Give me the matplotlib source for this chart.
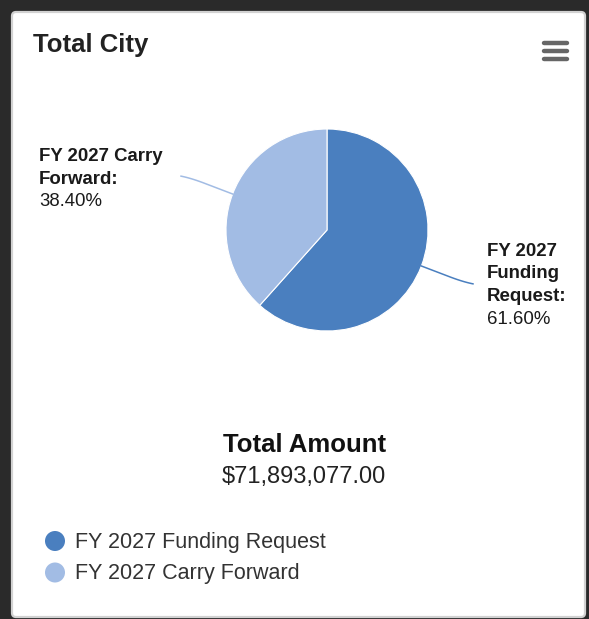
import textwrap
import numpy as np
import matplotlib
matplotlib.use("Agg")
import matplotlib.pyplot as plt
from matplotlib.patches import FancyBboxPatch, Circle

# ---------------- data ----------------
categories = ["FY 2027 Funding Request", "FY 2027 Carry Forward"]
percentages = [61.60, 38.40]
colors = ["#4a7fbf", "#a2bce4"]
title = "Total City"
total_label = "Total Amount"
total_value = 71893077.00
label_wrap = [8, 13]

plt.rcParams['font.family'] = ['Liberation Sans', 'DejaVu Sans']

W, H = 589, 619
fig = plt.figure(figsize=(W / 100, H / 100), dpi=100)
fig.patch.set_facecolor("#2a2a2a")

# overlay in pixel coordinates
ov = fig.add_axes([0, 0, 1, 1])
ov.set_xlim(0, W)
ov.set_ylim(H, 0)
ov.axis("off")

card = FancyBboxPatch((12, 12), 573, 605, boxstyle="round,pad=0,rounding_size=4",
                      facecolor="white", edgecolor="#d2d2d2", lw=1.6)
ov.add_patch(card)

ov.text(33, 52, title, fontsize=18.5, fontweight="bold", color="#222222",
        ha="left", va="baseline")

# hamburger menu icon
for yy in (43, 51, 59):
    ov.plot([544, 567], [yy, yy], color="#666666", lw=3.2, solid_capstyle="round")

# ---------------- pie ----------------
cx, cy, r = 327, 230, 101
pax = fig.add_axes([(cx - r) / W, 1 - (cy + r) / H, 2 * r / W, 2 * r / H])
wedges, _ = pax.pie(percentages, colors=colors, startangle=90, counterclock=False,
                    radius=1, wedgeprops=dict(edgecolor="white", linewidth=0.8))
pax.set_xlim(-1, 1)
pax.set_ylim(-1, 1)
pax.set_aspect("equal")
pax.axis("off")

# connectors + labels
label_pos = {0: (487, 256), 1: (39, 161)}
line_h = 22.5
t = np.linspace(0, 1, 30)
for i, w in enumerate(wedges):
    mid = np.deg2rad((w.theta1 + w.theta2) / 2)
    ux, uy = np.cos(mid), np.sin(mid)
    p0 = np.array([ux, uy]) * 1.0
    p1 = np.array([ux, uy]) * 1.3
    c = np.array([ux, uy]) * 1.44
    p3 = np.array([c[0] + np.sign(ux) * 0.1, c[1] + 0.02 * np.sign(uy)])
    bx = (1 - t) ** 2 * p1[0] + 2 * (1 - t) * t * c[0] + t ** 2 * p3[0]
    by = (1 - t) ** 2 * p1[1] + 2 * (1 - t) * t * c[1] + t ** 2 * p3[1]
    xs = np.concatenate([[p0[0]], bx])
    ys = np.concatenate([[p0[1]], by])
    pax.plot(xs, ys, color=colors[i], lw=1.1, clip_on=False, solid_joinstyle="round")
    lines = textwrap.wrap(categories[i] + ":", label_wrap[i])
    lx, ly = label_pos[i]
    for j, ln in enumerate(lines):
        ov.text(lx, ly + j * line_h, ln, fontsize=13.4, fontweight="bold",
                color="#1a1a1a", ha="left", va="baseline")
    ov.text(lx, ly + len(lines) * line_h, f"{percentages[i]:.2f}%", fontsize=13.4,
            color="#1a1a1a", ha="left", va="baseline")

# total
ov.text(305, 452, total_label, fontsize=18.5, fontweight="bold", color="#111111",
        ha="center", va="baseline")
ov.text(304, 483, f"${total_value:,.2f}", fontsize=17, color="#222222",
        ha="center", va="baseline")

# legend
for i, cat in enumerate(categories):
    yy = 541 + i * 31.5
    ov.add_patch(Circle((55, yy), 10, facecolor=colors[i], edgecolor="none"))
    ov.text(75, yy + 7, cat, fontsize=15.5, color="#333333", ha="left", va="baseline")

fig.savefig("out.png", dpi=100, facecolor=fig.get_facecolor())
